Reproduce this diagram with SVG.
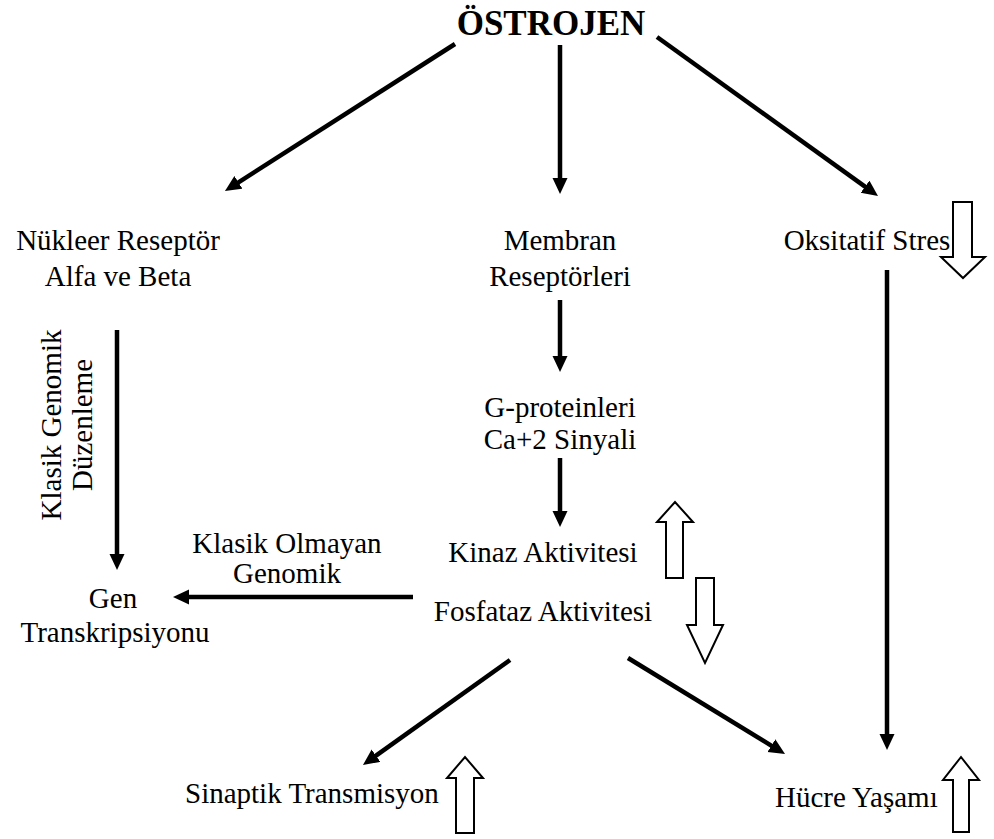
<svg xmlns="http://www.w3.org/2000/svg" width="994" height="839" viewBox="0 0 994 839">
<style>
  text { font-family: "Liberation Serif", "Times New Roman", serif; font-size: 29px; fill: #000; }
  .title { font-weight: bold; font-size: 35px; }
  .c { text-anchor: middle; }
  .arr { stroke: #000; stroke-width: 4.5; fill: none; marker-end: url(#ah); }
  .open { fill: #fff; stroke: #000; stroke-width: 2; stroke-linejoin: miter; }
</style>
<defs>
  <marker id="ah" markerUnits="userSpaceOnUse" markerWidth="18" markerHeight="16" refX="6" refY="7.5" orient="auto">
    <path d="M0,0 L16,7.5 L0,15 z" fill="#000"/>
  </marker>
</defs>
<rect width="994" height="839" fill="#fff"/>

<g id="connectors">
  <line class="arr" x1="455" y1="44" x2="233.4" y2="185.6"/>
  <line class="arr" x1="560" y1="45" x2="560" y2="184"/>
  <line class="arr" x1="657" y1="37" x2="869.9" y2="190.2"/>
  <line class="arr" x1="560" y1="300" x2="560" y2="362"/>
  <line class="arr" x1="560" y1="458" x2="560" y2="517"/>
  <line class="arr" x1="117" y1="330" x2="117" y2="560"/>
  <line class="arr" x1="413" y1="597" x2="183" y2="597"/>
  <line class="arr" x1="887" y1="270" x2="887" y2="740"/>
  <line class="arr" x1="510" y1="660" x2="371.1" y2="759.2"/>
  <line class="arr" x1="628" y1="658" x2="776.5" y2="748.8"/>
</g>

<g id="ostrojen"><text class="title c" x="551" y="35">ÖSTROJEN</text></g>
<g id="nukleer">
  <text class="c" x="118" y="250">Nükleer Reseptör</text>
  <text class="c" x="118" y="286">Alfa ve Beta</text>
</g>
<g id="membran">
  <text class="c" x="560" y="250">Membran</text>
  <text class="c" x="560" y="286">Reseptörleri</text>
</g>
<g id="oksitatif">
  <text class="c" x="867" y="250">Oksitatif Stres</text>
  <polygon class="open" points="953,202 972,202 972,257 985,257 963,278 941,257 953,257"/>
</g>
<g id="gprotein">
  <text class="c" x="560" y="417">G-proteinleri</text>
  <text class="c" x="560" y="449">Ca+2 Sinyali</text>
</g>
<g id="kinaz">
  <text class="c" x="543" y="562">Kinaz Aktivitesi</text>
  <polygon class="open" points="666,578 683,578 683,522 693,522 675,502 657,522 666,522"/>
</g>
<g id="fosfataz">
  <text class="c" x="543" y="621">Fosfataz Aktivitesi</text>
  <polygon class="open" points="696,578 714,578 714,625 723,625 705,663 687,625 696,625"/>
</g>
<g id="klasik-olmayan">
  <text class="c" x="287" y="553">Klasik Olmayan</text>
  <text class="c" x="287" y="583">Genomik</text>
</g>
<g id="klasik-genomik">
  <text class="c" transform="translate(61,425) rotate(-90)">Klasik Genomik</text>
  <text class="c" transform="translate(92,425) rotate(-90)">Düzenleme</text>
</g>
<g id="gen">
  <text class="c" x="113" y="608">Gen</text>
  <text class="c" x="115" y="642">Transkripsiyonu</text>
</g>
<g id="sinaptik">
  <text x="185" y="803">Sinaptik Transmisyon</text>
  <polygon class="open" points="456,833 474,833 474,778 483,778 465,757 447,778 456,778"/>
</g>
<g id="hucre">
  <text x="775" y="807">Hücre Yaşamı</text>
  <polygon class="open" points="953,832 969,832 969,780 979,780 961,757 943,780 953,780"/>
</g>
</svg>
